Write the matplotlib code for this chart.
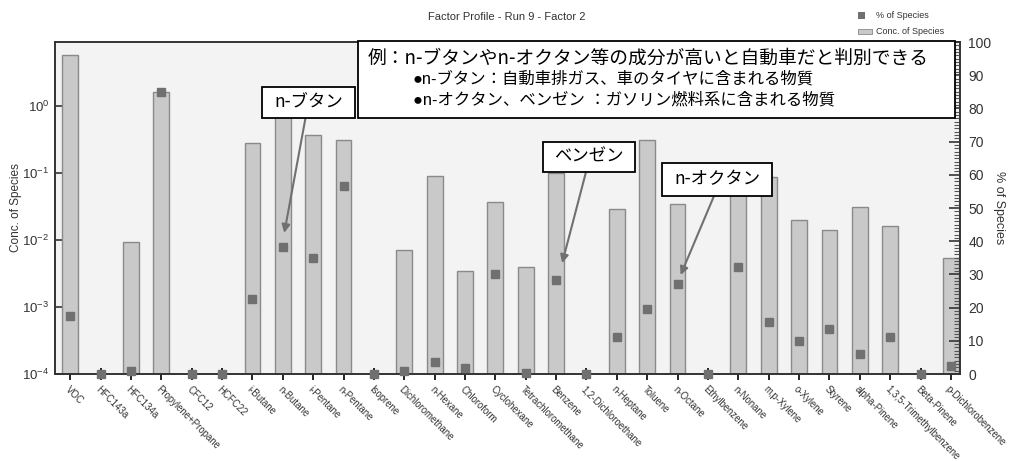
import numpy as np
import matplotlib
matplotlib.use('Agg')
import matplotlib.pyplot as plt
from matplotlib.patches import Rectangle

plt.rcParams['font.family'] = ['Liberation Sans', 'Noto Sans CJK JP', 'DejaVu Sans']

# species names
species = ['VOC', 'HFC143a', 'HFC134a', 'Propylene+Propane', 'CFC12', 'HCFC22',
           'i-Butane', 'n-Butane', 'i-Pentane', 'n-Pentane', 'Isoprene',
           'Dichloromethane', 'n-Hexane', 'Chloroform', 'Cyclohexane',
           'Tetrachloromethane', 'Benzene', '1,2-Dichloroethane', 'n-Heptane',
           'Toluene', 'n-Octane', 'Ethylbenzene', 'n-Nonane', 'm,p-Xylene',
           'o-Xylene', 'Styrene', 'alpha-Pinene', '1,3,5-Trimethylbenzene',
           'Beta-Pinene', 'p-Dichlorobenzene']

# Conc. of Species (log axis), 0 = no bar
conc = [5.8, 0, 0.0093, 1.6, 0, 0,
        0.28, 1.2, 0.37, 0.31, 0,
        0.0071, 0.091, 0.0035, 0.037,
        0.0040, 0.1, 0, 0.029,
        0.31, 0.035, 0, 0.07, 0.087,
        0.020, 0.014, 0.031, 0.016,
        0, 0.0054]

# % of Species (right axis)
pct = [17.5, 0, 1, 85, 0, 0,
       22.6, 38.3, 35, 56.7, 0,
       1, 3.6, 1.8, 30,
       0.3, 28.3, 0, 11,
       19.6, 27, 0, 32.2, 15.7,
       10, 13.6, 6, 11,
       0, 2.4]

W, H = 1017, 461
fig = plt.figure(figsize=(W / 100, H / 100), dpi=100)

def fx(px):
    return px / W

def fy(py):
    return 1 - py / H

ax = fig.add_axes([fx(55), fy(374), fx(960) - fx(55), fy(42) - fy(374)])
ax.set_facecolor('#f3f3f3')

x = np.arange(len(species))
conc_a = np.array(conc)
has = conc_a > 0
ax.bar(x[has], conc_a[has] - 1e-4, bottom=1e-4, width=0.52,
       color='#c9c9c9', edgecolor='#8a8a8a', linewidth=1.0, zorder=2)
ax.set_yscale('log')
ax.set_ylim(1e-4, 9.0)
ax.set_xlim(-0.5, 29.3)
ax.set_yticks([1e-4, 1e-3, 1e-2, 1e-1, 1e0])
ax.yaxis.set_minor_locator(matplotlib.ticker.NullLocator())
ax.tick_params(axis='y', direction='in', length=7, width=1.2, labelsize=9.5,
               colors='#333333', pad=4)
ax.set_xticks(x)
ax.set_xticklabels(species, rotation=-45, ha='left', va='top',
                   rotation_mode='anchor', fontsize=6.9, color='#333333')
ax.tick_params(axis='x', direction='inout', length=9, width=1.2, pad=3)
ax.set_ylabel('Conc. of Species', fontsize=8.5, color='#333333', labelpad=0)
for s in ax.spines.values():
    s.set_color('#333333')
    s.set_linewidth(1.2)

ax2 = ax.twinx()
ax2.plot(x, pct, 's', color='#707070', markersize=6, zorder=3, clip_on=False)
ax2.set_ylim(0, 100)
ax2.set_yticks(np.arange(0, 101, 10))
ax2.set_yticks(np.arange(0, 101, 1), minor=True)
ax2.tick_params(axis='y', which='major', direction='in', length=8, width=1.2,
                labelsize=10, colors='#333333', pad=6)
ax2.tick_params(axis='y', which='minor', direction='in', length=4, width=0.8,
                colors='#555555')
ax2.set_ylabel('% of Species', fontsize=9, color='#333333', rotation=270,
               labelpad=10)
for s in ax2.spines.values():
    s.set_color('#333333')
    s.set_linewidth(1.2)

# title and legend
fig.text(fx(507), fy(17), 'Factor Profile - Run 9 - Factor 2', ha='center',
         va='center', fontsize=8, color='#333333')
fig.patches.append(Rectangle((fx(858), fy(19)), fx(7), fy(12) - fy(19),
                             transform=fig.transFigure, facecolor='#707070',
                             edgecolor='none'))
fig.patches.append(Rectangle((fx(858), fy(34)), fx(14), fy(29) - fy(34),
                             transform=fig.transFigure, facecolor='#c9c9c9',
                             edgecolor='#8a8a8a', linewidth=0.6))
fig.text(fx(876), fy(15), '% of Species', ha='left', va='center',
         fontsize=6.5, color='#333333')
fig.text(fx(876), fy(31), 'Conc. of Species', ha='left', va='center',
         fontsize=6.5, color='#333333')

# explanation box
fig.patches.append(Rectangle((fx(358), fy(118)), fx(955) - fx(358),
                             fy(41) - fy(118), transform=fig.transFigure,
                             facecolor='white', edgecolor='black',
                             linewidth=1.3, zorder=5))
jp = ['Noto Sans CJK JP', 'DejaVu Sans']
bullet = ['Liberation Sans', 'Noto Sans CJK JP']
fig.text(fx(368), fy(58), '例：n-ブタンやn-オクタン等の成分が高いと自動車だと判別できる',
         ha='left', va='center', fontsize=13.5, family=jp, zorder=6)
fig.text(fx(413), fy(79), '●n-ブタン：自動車排ガス、車のタイヤに含まれる物質',
         ha='left', va='center', fontsize=11.8, family=bullet, zorder=6)
fig.text(fx(413), fy(100), '●n-オクタン、ベンゼン ：ガソリン燃料系に含まれる物質',
         ha='left', va='center', fontsize=11.8, family=bullet, zorder=6)

# callouts: label, box (left, top, right, bottom) in px, arrow target in data
callouts = [
    ('n-ブタン', (262, 87, 355, 118), (7.05, 42.5)),
    ('ベンゼン', (543, 142, 635, 172), (16.2, 33.4)),
    ('n-オクタン', (662, 163, 772, 196), (20.1, 29.8)),
]
for label, (l, t, r, b), tip in callouts:
    fig.patches.append(Rectangle((fx(l), fy(b)), fx(r) - fx(l), fy(t) - fy(b),
                                 transform=fig.transFigure, facecolor='white',
                                 edgecolor='black', linewidth=1.3, zorder=5))
    fig.text(fx((l + r) / 2), fy((t + b) / 2), label, ha='center', va='center',
             fontsize=12.5, family=jp, zorder=6)
    ax2.annotate('', xy=tip, xycoords='data',
                 xytext=(fx((l + r) / 2 - 3), fy(b)), textcoords='figure fraction',
                 arrowprops=dict(arrowstyle='-|>', color='#707070', lw=1.5,
                                 mutation_scale=12, shrinkA=0, shrinkB=0),
                 zorder=4)

fig.savefig('out.png', dpi=100)
